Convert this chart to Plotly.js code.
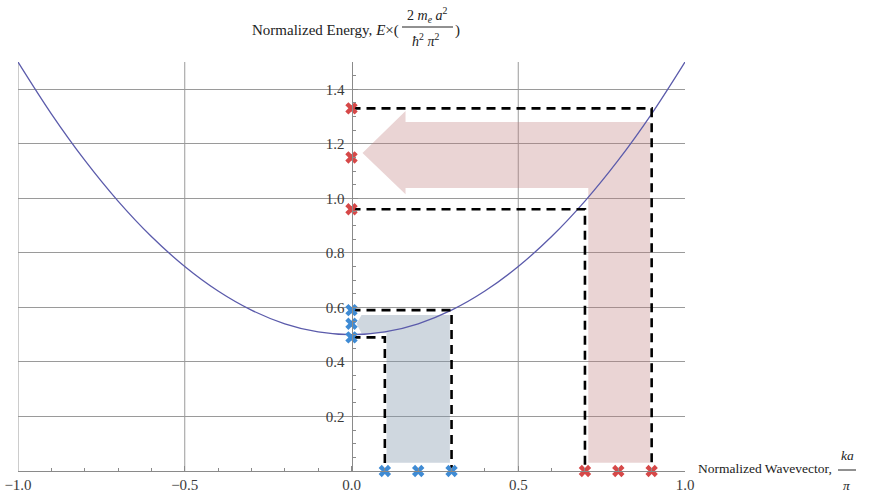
<!DOCTYPE html>
<html>
<head>
<meta charset="utf-8">
<script src="https://cdn.plot.ly/plotly-3.0.1.min.js"></script>
<style>html,body{margin:0;padding:0;background:#fff;}#chart{width:872px;height:494px;}</style>
</head>
<body>
<div id="chart"></div>
<script>
// Dispersion curve
const kCurve = [-1,-0.9,-0.8,-0.7,-0.6,-0.5,-0.4,-0.3,-0.2,-0.1,0,0.1,0.2,0.3,0.4,0.5,0.6,0.7,0.8,0.9,1];
const eCurve = [1.5,1.31,1.14,0.99,0.86,0.75,0.66,0.59,0.54,0.51,0.5,0.51,0.54,0.59,0.66,0.75,0.86,0.99,1.14,1.31,1.5];

// Marked states
const kBlue = [0.1,0.2,0.3];
const eBlue = [0.49,0.54,0.59];
const kRed = [0.7,0.8,0.9];
const eRed = [0.96,1.15,1.33];

// Dashed guide corners
const guideK = [0.1,0.3,0.7,0.9];
const guideE = [0.49,0.59,0.96,1.33];

// Shaded arrow outlines
const blueArrowX = [0.015,0.03,0.295,0.295,0.105,0.105,0.03];
const blueArrowY = [0.54,0.572,0.572,0.03,0.03,0.505,0.505];
const redArrowX = [0.033,0.162,0.162,0.895,0.895,0.71,0.71,0.162,0.162];
const redArrowY = [1.166,1.32,1.28,1.28,0.03,0.03,1.038,1.038,1.015];

// Axis ticks
const xTicks = [-1,-0.5,0,0.5,1];
const xTickText = ['\u22121.0','\u22120.5','0.0','0.5','1.0'];
const yTicks = [0.2,0.4,0.6,0.8,1.0,1.2,1.4];
const yTickText = ['0.2','0.4','0.6','0.8','1.0','1.2','1.4'];
const xGrid = [-1,-0.5,0.5];

const serif = 'Liberation Serif, Times New Roman, serif';
const traces = [];

traces.push({x: blueArrowX, y: blueArrowY, type:'scatter', mode:'lines', fill:'toself',
  fillcolor:'rgba(130,150,172,0.38)', line:{width:0}, hoverinfo:'skip', showlegend:false});
traces.push({x: redArrowX, y: redArrowY, type:'scatter', mode:'lines', fill:'toself',
  fillcolor:'rgba(190,120,120,0.32)', line:{width:0}, hoverinfo:'skip', showlegend:false});

traces.push({x: kCurve, y: eCurve, type:'scatter', mode:'lines',
  line:{color:'#5b5bab', width:1.3, shape:'spline', smoothing:1}, showlegend:false});

guideK.forEach((k,i) => {
  traces.push({x:[0,k,k], y:[guideE[i],guideE[i],0], type:'scatter', mode:'lines',
    line:{color:'#000', width:2.6, dash:'9px,6px'}, showlegend:false, cliponaxis:false});
});

function markers(xs, ys, color){
  return {x: xs, y: ys, type:'scatter', mode:'markers', cliponaxis:false,
    marker:{symbol:'x', size:11, color:color, line:{width:0}}, showlegend:false};
}
traces.push(markers(kBlue, kBlue.map(()=>0), '#3f8bd4'));
traces.push(markers(kBlue.map(()=>0), eBlue, '#3f8bd4'));
traces.push(markers(kRed, kRed.map(()=>0), '#d64848'));
traces.push(markers(kRed.map(()=>0), eRed, '#d64848'));

const L=18, R=187, T=62, B=23, W=872, H=494;
const pw = W-L-R, ph = H-T-B;
const px = v => (v-L)/pw;
const py = v => (H-B-v)/ph;

const shapes = xGrid.map(g => ({type:'line', xref:'x', yref:'paper', x0:g, x1:g, y0:0, y1:1,
  line:{color:'#9a9a9a', width:1}, layer:'below'}));
shapes.push({type:'line', xref:'paper', yref:'paper', x0:px(402), x1:px(453), y0:py(27), y1:py(27), line:{color:'#222', width:1}});
shapes.push({type:'line', xref:'paper', yref:'paper', x0:px(838), x1:px(856), y0:py(470), y1:py(470), line:{color:'#222', width:1}});

const af = {family: serif, size:13.5, color:'#222'};
const annotations = [
  {xref:'paper', yref:'paper', x:px(401), y:py(30), xanchor:'right', yanchor:'middle', showarrow:false,
   text:'Normalized Energy, <i>E</i>\u00d7(', font:{family:serif, size:15, color:'#222'}},
  {xref:'paper', yref:'paper', x:px(427), y:py(15), xanchor:'center', yanchor:'middle', showarrow:false,
   text:'2 <i>m<sub>e</sub></i> <i>a</i><sup>2</sup>', font:{family:serif, size:14, color:'#222'}},
  {xref:'paper', yref:'paper', x:px(425), y:py(40), xanchor:'center', yanchor:'middle', showarrow:false,
   text:'<i>\u0127</i><sup>2</sup> <i>\u03c0</i><sup>2</sup>', font:{family:serif, size:14, color:'#222'}},
  {xref:'paper', yref:'paper', x:px(453), y:py(30), xanchor:'left', yanchor:'middle', showarrow:false,
   text:')', font:{family:serif, size:15, color:'#222'}},
  {xref:'paper', yref:'paper', x:px(696), y:py(468), xanchor:'left', yanchor:'middle', showarrow:false,
   text:'Normalized Wavevector,', font:af},
  {xref:'paper', yref:'paper', x:px(847), y:py(455), xanchor:'center', yanchor:'middle', showarrow:false,
   text:'<i>ka</i>', font:af},
  {xref:'paper', yref:'paper', x:px(847), y:py(486), xanchor:'center', yanchor:'middle', showarrow:false,
   text:'<i>\u03c0</i>', font:af}
];

const tf = {family:serif, size:15, color:'#3a3a3a'};
const layout = {
  width:W, height:H, margin:{l:L, r:R, t:T, b:B, pad:0},
  paper_bgcolor:'#fff', plot_bgcolor:'#fff', showlegend:false,
  font:{family:serif, size:14, color:'#444'},
  xaxis:{range:[-1,1], tickvals:xTicks, ticktext:xTickText, showgrid:false, zeroline:false,
    showline:true, linecolor:'#8a8a8a', linewidth:1, ticks:'inside', ticklen:5, tickcolor:'#8a8a8a',
    minor:{dtick:0.1, tick0:0, ticks:'inside', ticklen:3, tickcolor:'#8a8a8a', showgrid:false},
    tickfont:tf, automargin:false, fixedrange:true},
  yaxis:{range:[0,1.5], anchor:'free', position:0.5, side:'left', tickvals:yTicks, ticktext:yTickText,
    showgrid:true, gridcolor:'#9a9a9a', gridwidth:1, zeroline:false,
    showline:true, linecolor:'#8a8a8a', linewidth:1, ticks:'inside', ticklen:5, tickcolor:'#8a8a8a',
    ticklabelstandoff:4,
    minor:{dtick:0.05, tick0:0, ticks:'inside', ticklen:3, tickcolor:'#8a8a8a', showgrid:false},
    tickfont:tf, automargin:false, fixedrange:true},
  shapes: shapes,
  annotations: annotations
};

Plotly.newPlot('chart', traces, layout, {displayModeBar:false, staticPlot:true});
</script>
</body>
</html>
